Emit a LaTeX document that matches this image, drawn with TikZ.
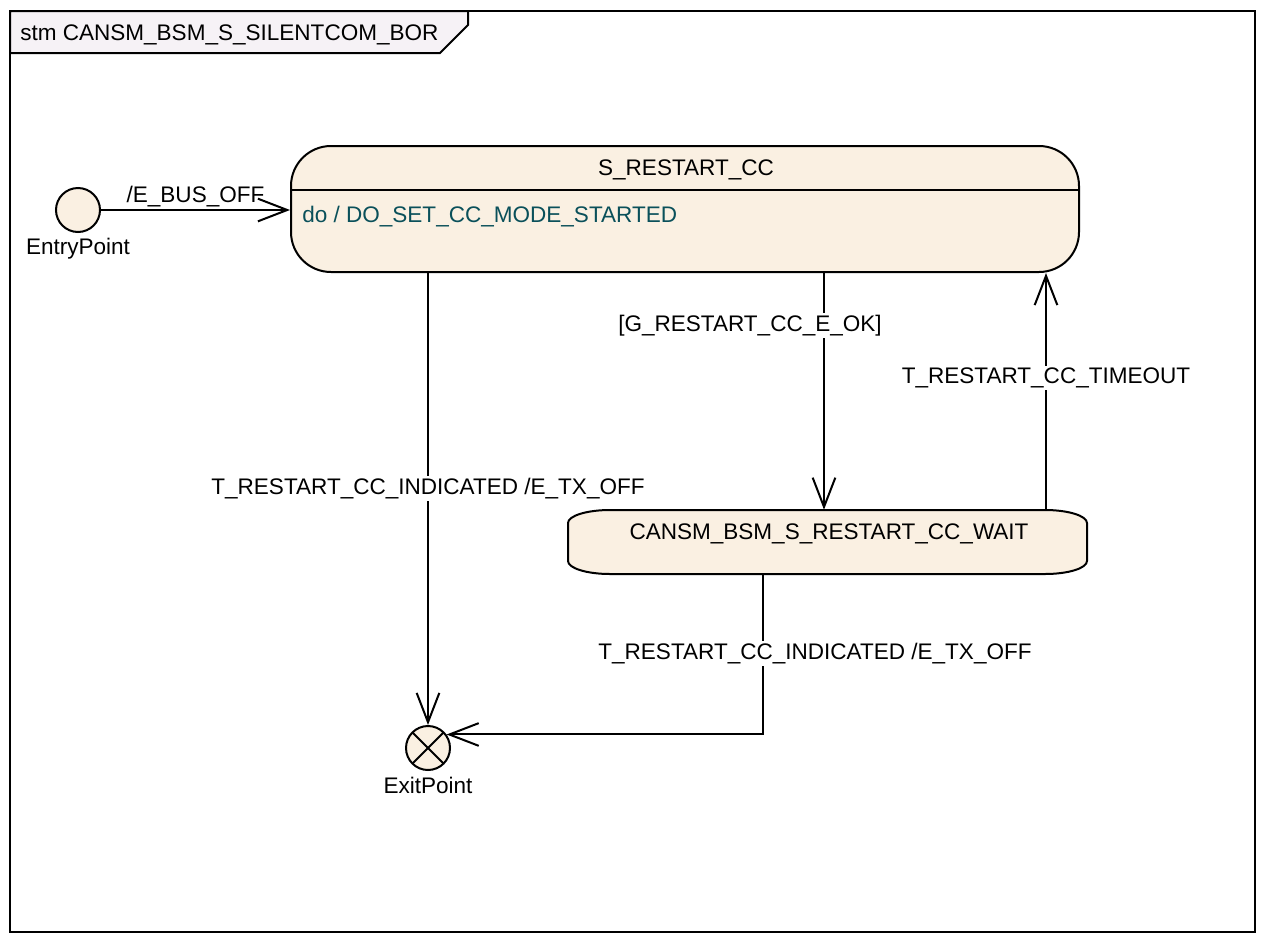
\documentclass[tikz,border=0pt]{standalone}
\usepackage{fontspec}
\setmainfont{Liberation Sans}
\usetikzlibrary{arrows.meta,calc}
\definecolor{statefill}{HTML}{FAF0E2}
\definecolor{tabfill}{HTML}{F6F2F6}
\definecolor{doteal}{HTML}{0A505A}
\begin{document}
\begin{tikzpicture}[x=0.75pt,y=-0.75pt,
  font=\fontsize{16.9}{19}\selectfont,
  ln/.style={line width=1.5pt},
  arr/.style={ln,-{Straight Barb[length=22pt,width=17pt,line width=1.5pt]}},
  txt/.style={inner sep=0pt,yshift=-2.2pt},
  lbl/.style={fill=white,inner sep=1.5pt,yshift=-2pt},
  pseudo/.style={circle,draw,ln,fill=statefill,minimum size=33pt,inner sep=0pt},
]
\useasboundingbox (0,0) rectangle (1267,943);
% frame
\draw[line width=2.2pt,fill=white] (10,11) rectangle (1255,932);
\draw[ln,fill=tabfill] (10,11) -- (468,11) -- (468,25) -- (440,53) -- (10,53) -- cycle;
\node[txt,anchor=west] (title) at (20,32) {stm CANSM\_BSM\_S\_SILENTCOM\_BOR};

% S_RESTART_CC
\node[draw,ln,fill=statefill,rounded corners=30pt,minimum width=591pt,minimum height=94.5pt,inner sep=0pt] (rs) at (685,209) {};
\draw[ln] ($(rs.north west)+(0,45)$) -- ($(rs.north east)+(0,45)$);
\node[txt] (rstitle) at (686,167) {S\_RESTART\_CC};
\node[txt,anchor=west,text=doteal] (rsdo) at (302,214) {do / DO\_SET\_CC\_MODE\_STARTED};

% WAIT
\draw[ln,fill=statefill] (610,510) -- (1045,510)
  arc[start angle=90,end angle=0,x radius=31.5pt,y radius=9.75pt] -- (1087,561)
  arc[start angle=0,end angle=-90,x radius=31.5pt,y radius=9.75pt] -- (610,574)
  arc[start angle=270,end angle=180,x radius=31.5pt,y radius=9.75pt] -- (568,523)
  arc[start angle=180,end angle=90,x radius=31.5pt,y radius=9.75pt] -- cycle;
\node[minimum width=389pt,minimum height=48pt,inner sep=0pt] (wait) at (827.5,542) {};
\node[txt] (waittext) at (829,531) {CANSM\_BSM\_S\_RESTART\_CC\_WAIT};

% pseudo states
\node[pseudo] (entry) at (78,210) {};
\node[txt] (entrylbl) at (78,246) {EntryPoint};
\node[pseudo,path picture={
  \draw[ln] (path picture bounding box.center) ++(-11.5pt,-11.5pt) -- ++(23pt,23pt);
  \draw[ln] (path picture bounding box.center) ++(-11.5pt,11.5pt) -- ++(23pt,-23pt);}] (exit) at (428,748) {};
\node[txt] (exitlbl) at (428,783) {ExitPoint};

% helper x positions
\coordinate (xa) at (824,0);
\coordinate (xb) at (1046,0);
\coordinate (xc) at (763,0);

% transitions
\draw[arr] (entry) -- (entry -| rs.west) node[midway,above=-2pt] {/E\_BUS\_OFF};
\draw[arr] (rs.south -| exit) -- (exit.north)
  node[lbl,pos=0.47] {T\_RESTART\_CC\_INDICATED /E\_TX\_OFF};
\draw[arr] (rs.south -| xa) -- (wait.north -| xa)
  node[lbl,pos=0.21,xshift=-55.5pt] {[G\_RESTART\_CC\_E\_OK]};
\draw[arr] (wait.north -| xb) -- (rs.south -| xb)
  node[lbl,pos=0.567] {T\_RESTART\_CC\_TIMEOUT};
\draw[arr] (wait.south -| xc) |- (exit.36)
  node[lbl,pos=0.239,xshift=39pt] {T\_RESTART\_CC\_INDICATED /E\_TX\_OFF};
\end{tikzpicture}
\end{document}
